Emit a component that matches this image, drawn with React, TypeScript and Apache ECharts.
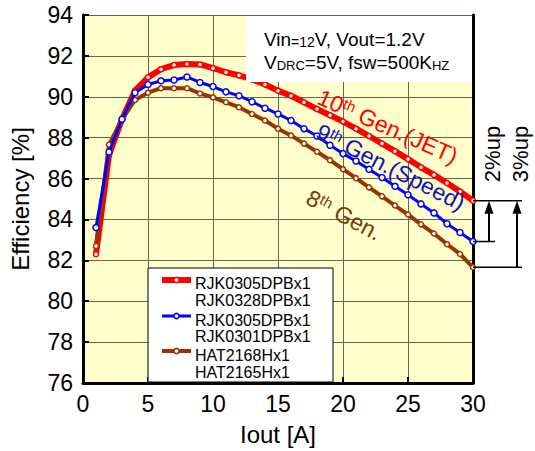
import React, { useEffect, useRef } from 'react';
import * as echarts from 'echarts';

const iout = [1, 2, 3, 4, 5, 6, 7, 8, 9, 10, 11, 12, 13, 14, 15, 16, 17, 18, 19, 20, 21, 22, 23, 24, 25, 26, 27, 28, 29, 30];
const gen10 = [82.3, 87.15, 88.9, 90.3, 90.95, 91.35, 91.55, 91.6, 91.58, 91.4, 91.2, 91.05, 90.85, 90.6, 90.3, 90.05, 89.73, 89.4, 89.1, 88.79, 88.44, 88.08, 87.71, 87.34, 86.95, 86.55, 86.18, 85.78, 85.37, 84.92];
const gen9 = [83.6, 87.3, 88.9, 90.2, 90.6, 90.78, 90.82, 90.97, 90.7, 90.5, 90.24, 90.05, 89.76, 89.44, 89.16, 88.84, 88.44, 88.08, 87.63, 87.22, 86.86, 86.45, 86.05, 85.62, 85.21, 84.76, 84.32, 83.79, 83.36, 82.92];
const gen8 = [82.7, 87.66, 88.9, 89.84, 90.2, 90.42, 90.42, 90.42, 90.16, 89.97, 89.73, 89.49, 89.16, 88.84, 88.44, 88.11, 87.71, 87.31, 86.9, 86.46, 86.02, 85.57, 85.13, 84.68, 84.24, 83.76, 83.31, 82.79, 82.31, 81.66];

const legendNames = [
  ['RJK0305DPBx1', 'RJK0328DPBx1'],
  ['RJK0305DPBx1', 'RJK0301DPBx1'],
  ['HAT2168Hx1', 'HAT2165Hx1'],
];

const RED = '#FF0000';
const BLUE = '#0000FF';
const BROWN = '#993300';
const FONT = 'Arial, "Liberation Sans", sans-serif';

export default function App() {
  const ref = useRef<HTMLDivElement>(null);
  useEffect(() => {
    document.body.style.margin = '0';
    const chart = echarts.init(ref.current!, null, { renderer: 'svg' });
    const pairs = (ys: number[]) => iout.map((x, i) => [x, ys[i]]);
    const axisCommon = {
      axisLine: { show: true, lineStyle: { color: '#000', width: 3 } },
      axisTick: { show: true, inside: true, length: 6, lineStyle: { color: '#000', width: 2 } },
      splitLine: { show: true, lineStyle: { color: '#66664c', width: 1 } },
      axisLabel: { color: '#000', fontSize: 23, fontFamily: FONT },
      nameTextStyle: { color: '#000', fontSize: 24, fontFamily: FONT },
    };
    const mkSeries = (name: string, ys: number[], color: string, width: number, size: number, z: number) => ({
      name,
      type: 'line',
      data: pairs(ys),
      z,
      symbol: 'circle',
      symbolSize: size,
      showAllSymbol: true,
      lineStyle: { color, width },
      itemStyle: { color: '#fff', borderColor: color, borderWidth: 1.5 },
    });
    chart.setOption({
      animation: false,
      textStyle: { fontFamily: FONT },
      grid: { left: 82, right: 62, top: 15, bottom: 64, show: true, backgroundColor: '#FFFFCC', borderWidth: 0 },
      xAxis: {
        type: 'value', min: 0, max: 30, interval: 5,
        name: 'Iout [A]', nameLocation: 'middle', nameGap: 39,
        ...axisCommon,
        axisLabel: { ...axisCommon.axisLabel, margin: 9 },
      },
      yAxis: [
        {
          type: 'value', min: 76, max: 94, interval: 2,
          name: 'Efficiency [%]', nameLocation: 'middle', nameGap: 51,
          ...axisCommon,
          axisLabel: { ...axisCommon.axisLabel, margin: 10 },
        },
        {
          type: 'value', min: 76, max: 94, interval: 2, position: 'right',
          axisLine: { show: true, lineStyle: { color: '#000', width: 3 } },
          axisTick: { show: false }, axisLabel: { show: false }, splitLine: { show: false },
        },
      ],
      series: [
        mkSeries('10th Gen.(JET)', gen10, RED, 6, 5, 2),
        mkSeries('8th Gen.', gen8, BROWN, 4, 5, 3),
        mkSeries('9th Gen.(Speed)', gen9, BLUE, 3, 6, 4),
      ],
    });

    const p = (x: number, y: number) => chart.convertToPixel({ gridIndex: 0 }, [x, y]) as number[];
    const last = iout.length - 1;
    const pr = p(iout[last], gen10[last]);
    const pb = p(iout[last], gen9[last]);
    const pw = p(iout[last], gen8[last]);
    const xr = pr[0];
    const a1 = xr + 16;
    const a2 = xr + 44;

    const curveLabel = (x: number, y: number, rot: number, color: string, num: string, rest: string) => ({
      type: 'text', x, y, rotation: (-rot * Math.PI) / 180, z: 50,
      style: {
        text: `{n|${num}}{s|th}{n| ${rest}}`,
        fill: color, align: 'left', verticalAlign: 'middle', fontFamily: FONT,
        rich: {
          n: { fontSize: 23, fill: color, fontFamily: FONT },
          s: { fontSize: 15, verticalAlign: 'top', fill: color, fontFamily: FONT },
        },
      },
    });

    const arrowHead = (x: number, y: number) => ({
      type: 'polygon', z: 50,
      shape: { points: [[x, y], [x - 4.5, y + 13], [x + 4.5, y + 13]] },
      style: { fill: '#000' },
    });

    const legendColors = [RED, BLUE, BROWN];
    const legendWidths = [6, 3, 4];
    const legendYs = [280, 316, 351];
    const legendTextYs = [[283.5, 300], [320, 336.5], [355.5, 372]];
    const legendEls: any[] = [
      { type: 'rect', z: 50, shape: { x: 148, y: 268, width: 185, height: 114 }, style: { fill: '#fff', stroke: '#000', lineWidth: 1 } },
    ];
    legendColors.forEach((c, i) => {
      const y = legendYs[i];
      legendEls.push(
        { type: 'line', z: 51, shape: { x1: 162, y1: y, x2: 191, y2: y }, style: { stroke: c, lineWidth: legendWidths[i] } },
        { type: 'circle', z: 52, shape: { cx: 176.5, cy: y, r: 2.6 }, style: { fill: '#fff', stroke: c, lineWidth: 1.5 } },
      );
      legendNames[i].forEach((t, j) => {
        legendEls.push({
          type: 'text', z: 52, x: 195, y: legendTextYs[i][j],
          style: { text: t, fill: '#000', fontSize: 16, lineHeight: 14, fontFamily: FONT, align: 'left', verticalAlign: 'middle' },
        });
      });
    });

    chart.setOption({
      graphic: [
        { type: 'rect', z: 50, shape: { x: 246, y: 16, width: 226, height: 66 }, style: { fill: '#fff' } },
        {
          type: 'text', z: 51, x: 264, y: 39,
          style: {
            text: '{a|Vin}{b|=12}{a|V, Vout=1.2V}', align: 'left', verticalAlign: 'middle',
            rich: { a: { fontSize: 19, fill: '#000', fontFamily: FONT }, b: { fontSize: 14, fill: '#000', fontFamily: FONT, verticalAlign: 'bottom' } },
          },
        },
        {
          type: 'text', z: 51, x: 264, y: 62,
          style: {
            text: '{a|V}{b|DRC}{a|=5V, fsw=500K}{b|HZ}', align: 'left', verticalAlign: 'middle',
            rich: { a: { fontSize: 19, fill: '#000', fontFamily: FONT }, b: { fontSize: 13, fill: '#000', fontFamily: FONT, verticalAlign: 'bottom' } },
          },
        },
        curveLabel(319, 96, 24, RED, '10', 'Gen.(JET)'),
        curveLabel(318, 130, 27, '#1010C0', '9', 'Gen.(Speed)'),
        curveLabel(308, 196, 28, '#7A3A0A', '8', 'Gen.'),
        { type: 'line', z: 50, shape: { x1: xr, y1: pr[1], x2: a2 + 5, y2: pr[1] }, style: { stroke: '#000', lineWidth: 1.5 } },
        { type: 'line', z: 50, shape: { x1: xr, y1: pb[1], x2: a1 + 6, y2: pb[1] }, style: { stroke: '#000', lineWidth: 1.5 } },
        { type: 'line', z: 50, shape: { x1: xr, y1: pw[1], x2: a2 + 5, y2: pw[1] }, style: { stroke: '#000', lineWidth: 1.5 } },
        { type: 'line', z: 50, shape: { x1: a1, y1: pb[1], x2: a1, y2: pr[1] + 10 }, style: { stroke: '#000', lineWidth: 2 } },
        { type: 'line', z: 50, shape: { x1: a2, y1: pw[1], x2: a2, y2: pr[1] + 10 }, style: { stroke: '#000', lineWidth: 2 } },
        arrowHead(a1, pr[1]),
        arrowHead(a2, pr[1]),
        {
          type: 'text', z: 50, x: 492, y: 154, rotation: Math.PI / 2,
          style: { text: '2%up', fill: '#000', fontSize: 22, fontFamily: FONT, align: 'center', verticalAlign: 'middle' },
        },
        {
          type: 'text', z: 50, x: 520, y: 154, rotation: Math.PI / 2,
          style: { text: '3%up', fill: '#000', fontSize: 22, fontFamily: FONT, align: 'center', verticalAlign: 'middle' },
        },
        ...legendEls,
      ],
    });
    return () => chart.dispose();
  }, []);
  return <div ref={ref} style={{ width: 535, height: 451 }} />;
}
